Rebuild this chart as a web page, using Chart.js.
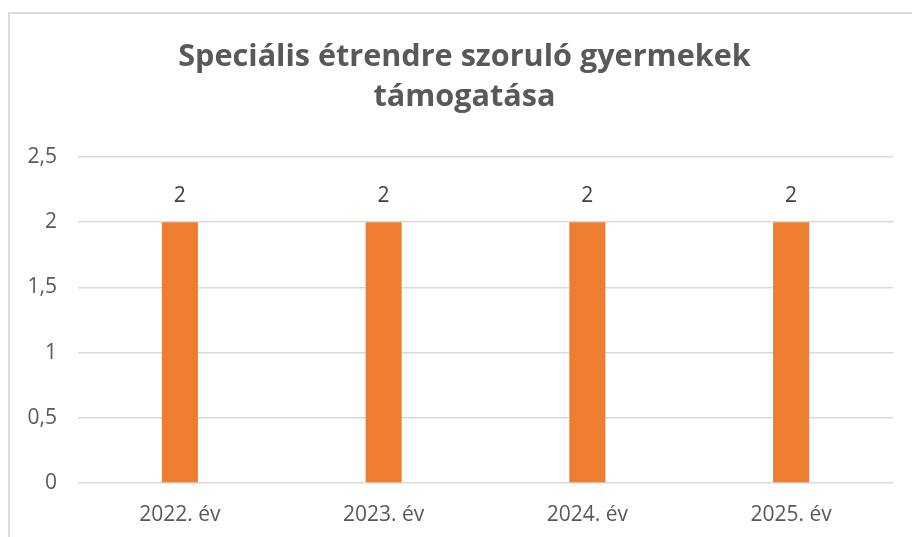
<!DOCTYPE html>
<html>
<head>
<meta charset="utf-8">
<script src="https://cdn.jsdelivr.net/npm/chart.js@4"></script>
<style>
  html, body { margin: 0; padding: 0; background: #ffffff; overflow: hidden; }
  #frame { position: absolute; left: 8px; top: 12px; width: 1000px; height: 700px;
           border-left: 2px solid #dcdcdc; border-top: 2px solid #dcdcdc; }
  #wrap { position: absolute; left: 0; top: 0; width: 912px; height: 537px; }
</style>
</head>
<body>
<div id="frame"></div>
<div id="wrap"><canvas id="c" width="912" height="537"></canvas></div>
<script>
const categories = ["2022. év", "2023. év", "2024. év", "2025. év"];
const values = [2, 2, 2, 2];
const titleLines = ["Speciális étrendre szoruló gyermekek", "támogatása"];
const yTicks = { min: 0, max: 2.5, step: 0.5 };

// fit title font size to reference width
const mctx = document.createElement('canvas').getContext('2d');
mctx.font = 'bold 100px "Open Sans"';
const titleSize = Math.round(100 * 572 / mctx.measureText(titleLines[0]).width * 10) / 10;

const labelPlugin = {
  id: 'barLabels',
  afterDatasetsDraw(chart) {
    const ctx = chart.ctx;
    ctx.save();
    ctx.font = '21px "Open Sans"';
    ctx.fillStyle = '#404040';
    ctx.textAlign = 'center';
    ctx.textBaseline = 'middle';
    chart.getDatasetMeta(0).data.forEach((bar, i) => {
      ctx.fillText(String(values[i]).replace('.', ','), bar.x, bar.y - 26);
    });
    ctx.restore();
  }
};

// shift title box so it is centred like the reference (within the frame)
const titleShift = {
  id: 'titleShift',
  afterLayout(chart) {
    if (chart.titleBlock) { chart.titleBlock.left = 36; }
  }
};

new Chart(document.getElementById('c'), {
  type: 'bar',
  data: {
    labels: categories,
    datasets: [{
      data: values,
      backgroundColor: '#ED7D31',
      borderWidth: 0,
      barPercentage: 0.177,
      categoryPercentage: 1
    }]
  },
  options: {
    responsive: false,
    animation: false,
    devicePixelRatio: 1,
    layout: { padding: { left: 0, right: 19, top: 0, bottom: 0 } },
    plugins: {
      legend: { display: false },
      tooltip: { enabled: false },
      title: {
        display: true,
        text: titleLines,
        color: '#595959',
        font: { family: '"Open Sans"', size: titleSize, weight: 'bold', lineHeight: '40px' },
        padding: { top: 37, bottom: 40 }
      }
    },
    scales: {
      x: {
        grid: { display: false, drawTicks: false },
        border: { display: false },
        ticks: { color: '#595959', font: { family: '"Open Sans"', size: 21 }, padding: 19, maxRotation: 0 },
        afterFit(scale) { scale.height = 54; }
      },
      y: {
        min: yTicks.min,
        max: yTicks.max,
        grid: { color: '#d9d9d9', lineWidth: 1.5, drawTicks: false },
        border: { display: false },
        ticks: {
          stepSize: yTicks.step,
          color: '#595959',
          font: { family: '"Open Sans"', size: 21 },
          padding: 21,
          callback: (v) => String(v).replace('.', ',')
        },
        afterFit(scale) { scale.width = 78; }
      }
    }
  },
  plugins: [labelPlugin, titleShift]
});
</script>
</body>
</html>
